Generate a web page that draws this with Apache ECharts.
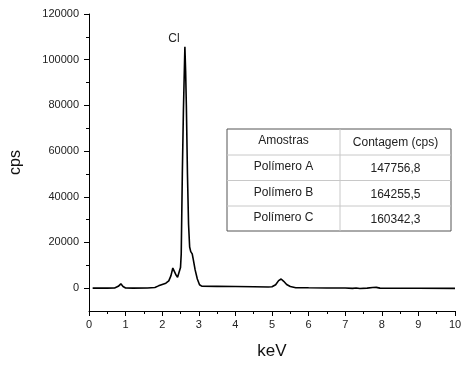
<!DOCTYPE html>
<html>
<head>
<meta charset="utf-8">
<script src="https://cdn.jsdelivr.net/npm/echarts@6/dist/echarts.min.js"></script>
<style>
html,body{margin:0;padding:0;background:#fff;}
#chart{width:466px;height:366px;}
</style>
</head>
<body>
<div id="chart"></div>
<script>
// Spectrum: energy (keV) and counts (cps)
const energyKeV = [0.10, 0.50, 0.70, 0.80, 0.87, 0.93, 1.00, 1.20, 1.60, 1.80, 1.90, 2.00, 2.10, 2.18, 2.24, 2.29, 2.33, 2.37, 2.42, 2.47, 2.50, 2.52, 2.55, 2.58, 2.60, 2.62, 2.64, 2.66, 2.69, 2.72, 2.75, 2.78, 2.82, 2.85, 2.90, 2.96, 3.02, 3.08, 3.50, 4.00, 4.50, 4.90, 5.00, 5.10, 5.18, 5.25, 5.32, 5.40, 5.50, 5.65, 6.00, 6.50, 7.00, 7.20, 7.30, 7.40, 7.60, 7.75, 7.85, 7.95, 8.50, 9.00, 10.00];
const countsCps = [0, 0, 100, 800, 1900, 700, 100, 0, 50, 300, 1000, 1600, 2200, 3200, 5500, 8800, 8600, 6000, 4800, 5600, 9000, 15000, 50000, 78000, 92000, 105700, 95000, 80000, 50000, 28000, 18000, 16000, 15000, 12500, 8000, 4000, 1500, 900, 800, 700, 600, 500, 600, 1500, 3300, 4000, 3000, 1600, 700, 200, 150, 100, 50, -100, 50, -150, 0, 300, 350, 0, -50, -50, -100];
const xTicks = [0, 1, 2, 3, 4, 5, 6, 7, 8, 9, 10];
const yTicks = [0, 20000, 40000, 60000, 80000, 100000, 120000];
const yMinorTicks = [10000, 30000, 50000, 70000, 90000, 110000];
const peakLabel = { name: 'Cl', x: 2.62, y: 105700 };
// Inset table
const tableHeader = ['Amostras', 'Contagem (cps)'];
const tableSamples = ['Polímero A', 'Polímero B', 'Polímero C'];
const tableCounts = ['147756,8', '164255,5', '160342,3'];

const FONT = 'Liberation Sans, Arial, sans-serif';
const chart = echarts.init(document.getElementById('chart'));

// table graphic
const tx = 227, ty = 129, tw = 224, colX = 340;
const rowY = [129, 155, 180.5, 206, 231];
const tableEls = [];
tableEls.push({type:'rect', shape:{x:tx, y:ty, width:tw, height:rowY[4]-ty}, style:{fill:'#fff', stroke:'#555', lineWidth:1}, z:10});
tableEls.push({type:'line', shape:{x1:colX, y1:ty, x2:colX, y2:rowY[4]}, style:{stroke:'#c8c8c8', lineWidth:1}, z:11});
for (let i = 1; i < 4; i++) {
  tableEls.push({type:'line', shape:{x1:tx, y1:rowY[i], x2:tx+tw, y2:rowY[i]}, style:{stroke:'#c8c8c8', lineWidth:1}, z:11});
}
const c1 = (tx + colX) / 2, c2 = (colX + tx + tw) / 2;
tableEls.push({type:'text', x:c1, y:(rowY[0]+rowY[1])/2 - 1, style:{text:tableHeader[0], fill:'#222', font:'12px ' + FONT, align:'center', verticalAlign:'middle'}, z:12});
tableEls.push({type:'text', x:c2, y:(rowY[0]+rowY[1])/2 + 1, style:{text:tableHeader[1], fill:'#222', font:'12px ' + FONT, align:'center', verticalAlign:'middle'}, z:12});
for (let i = 0; i < 3; i++) {
  const cy = (rowY[i+1] + rowY[i+2]) / 2;
  tableEls.push({type:'text', x:c1, y:cy - 1, style:{text:tableSamples[i], fill:'#222', font:'12px ' + FONT, align:'center', verticalAlign:'middle'}, z:12});
  tableEls.push({type:'text', x:c2, y:cy + 1, style:{text:tableCounts[i], fill:'#222', font:'12px ' + FONT, align:'center', verticalAlign:'middle'}, z:12});
}

chart.setOption({
  animation: false,
  backgroundColor: '#fff',
  grid: { left: 88, right: 11, top: 14, bottom: 55, containLabel: false },
  xAxis: {
    type: 'value', min: 0, max: 10, interval: 1,
    name: 'keV', nameLocation: 'middle', nameGap: 32,
    nameTextStyle: { fontSize: 17, color: '#111', fontFamily: FONT },
    axisLine: { onZero: false, lineStyle: { color: '#000', width: 1 } },
    axisTick: { show: true, inside: false, length: 5, lineStyle: { color: '#000' } },
    minorTick: { show: true, splitNumber: 2, length: 3, lineStyle: { color: '#000' } },
    axisLabel: { fontSize: 11, color: '#222', fontFamily: FONT, margin: 8, formatter: v => String(v) },
    splitLine: { show: false }
  },
  yAxis: [{
    type: 'value', min: -10000, max: 120000,
    name: 'cps', nameLocation: 'middle', nameGap: 65,
    nameTextStyle: { fontSize: 16, color: '#111', fontFamily: FONT },
    axisLine: { show: true, onZero: false, lineStyle: { color: '#000', width: 1 } },
    axisTick: { show: true, length: 5, customValues: yTicks, lineStyle: { color: '#000' } },
    axisLabel: { fontSize: 11, color: '#222', fontFamily: FONT, margin: 10, customValues: yTicks, formatter: v => String(v) },
    splitLine: { show: false }
  }, {
    type: 'value', min: -10000, max: 120000, position: 'left',
    axisLine: { show: false },
    axisTick: { show: true, length: 3, customValues: yMinorTicks, lineStyle: { color: '#000' } },
    axisLabel: { show: false },
    splitLine: { show: false }
  }],
  series: [{
    type: 'line',
    data: energyKeV.map((e, i) => [e, countsCps[i]]),
    showSymbol: false, symbol: 'none',
    lineStyle: { color: '#000', width: 1.6 },
    markPoint: {
      symbol: 'circle', symbolSize: 0,
      data: [{ coord: [peakLabel.x, peakLabel.y], value: peakLabel.name }],
      label: { show: true, formatter: peakLabel.name, position: 'top', offset: [-11, 3], fontSize: 12, color: '#222', fontFamily: FONT }
    }
  }],
  graphic: tableEls
});
</script>
</body>
</html>
